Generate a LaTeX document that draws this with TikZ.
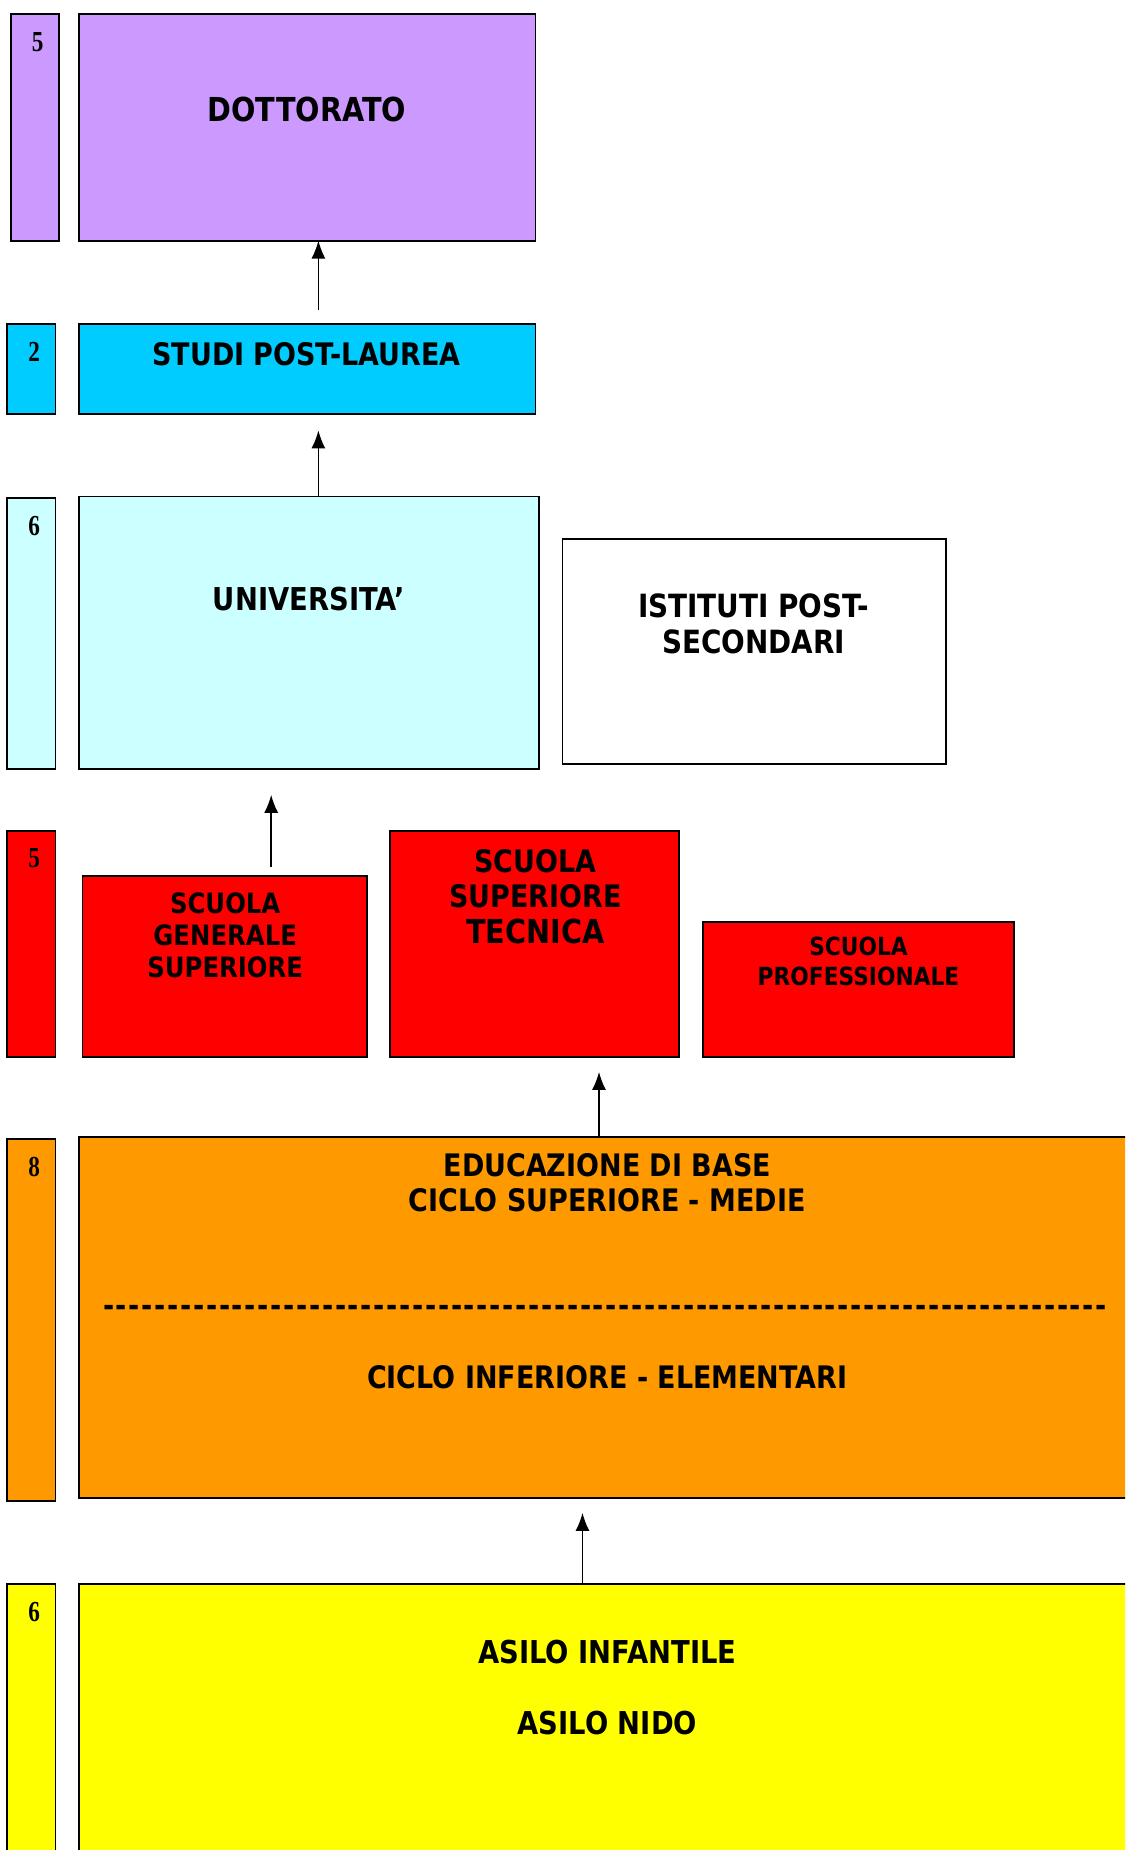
\documentclass[tikz,border=0pt]{standalone}
\usepackage{fontspec}
\usetikzlibrary{arrows.meta}
\newfontfamily\tfont[FakeStretch=0.87]{DejaVu Sans}
\newfontfamily\nfont[FakeStretch=0.8]{Liberation Serif}
\definecolor{cpurple}{HTML}{CC99FF}
\definecolor{ccyan}{HTML}{00CCFF}
\definecolor{clcyan}{HTML}{CCFFFF}
\definecolor{cred}{HTML}{FF0000}
\definecolor{corange}{HTML}{FF9900}
\definecolor{cyellow}{HTML}{FFFF00}
\newcount\hycnt
\newcommand\hyrow[1]{\hycnt=0 \loop\ifnum\hycnt<#1 -\kern1.7pt\advance\hycnt by 1 \repeat\unkern}
\tikzset{
  box/.style={draw=black, line width=1.8pt, inner sep=0pt, outer sep=0pt, anchor=north west},
  txt/.style={font=\tfont\bfseries, align=center, inner sep=0pt, text=black},
  num/.style={font=\nfont\bfseries\fontsize{29}{31}\selectfont, inner sep=0pt},
  arr/.style={line width=1.5pt, -{Latex[length=18pt,width=14pt]}},
}
\begin{document}
\begin{tikzpicture}[x=1pt,y=1pt]
\useasboundingbox (0,0) rectangle (1125,-1850);
\clip (0,0) rectangle (1125,-1850);
% row 1
\node[box, fill=cpurple, minimum width=48.4, minimum height=226.4] (s1) at (10.6,-14.2) {};
\node[box, fill=cpurple, minimum width=456.4, minimum height=226.4] (dott) at (79,-14.2) {};
\node[num] (n1) at (37.7,-42.5) {5};
\node[txt, font=\tfont\bfseries\fontsize{33}{38}\selectfont] (tdott) at (307,-109.7) {DOTTORATO};
% row 2
\node[box, fill=ccyan, minimum width=48.3, minimum height=89.6] (s2) at (7.1,-324.3) {};
\node[box, fill=ccyan, minimum width=456.4, minimum height=89.6] (studi) at (79,-324.3) {};
\node[num] (n2) at (34.2,-351.4) {2};
\node[txt, font=\tfont\bfseries\fontsize{31}{36}\selectfont] (tstudi) at (306.6,-353.8) {STUDI POST-LAUREA};
% row 3
\node[box, fill=clcyan, minimum width=48.3, minimum height=271.2] (s3) at (7.1,-497.6) {};
\node[box, fill=clcyan, minimum width=459.9, minimum height=272.4] (univ) at (79,-496.4) {};
\node[box, fill=white, minimum width=383.2, minimum height=225.2] (ist) at (562.5,-538.9) {};
\node[num] (n3) at (34.2,-525.9) {6};
\node[txt, font=\tfont\bfseries\fontsize{31.5}{36}\selectfont] (tuniv) at (309,-599) {UNIVERSITA’};
\node[txt, font=\tfont\bfseries\fontsize{32}{35.4}\selectfont] (tist) at (753.5,-623.8) {ISTITUTI POST-\\SECONDARI};
% row 4
\node[box, fill=cred, minimum width=48.3, minimum height=225.3] (s4) at (7.1,-831.3) {};
\node[box, fill=cred, minimum width=284.2, minimum height=180.5] (sgs) at (82.5,-876.1) {};
\node[box, fill=cred, minimum width=288.9, minimum height=225.3] (sst) at (390.3,-831.3) {};
\node[box, fill=cred, minimum width=311.3, minimum height=134.5] (sp) at (702.8,-922.1) {};
\node[num] (n4) at (34.2,-858.5) {5};
\node[txt, font=\tfont\bfseries\fontsize{28}{31.8}\selectfont] (tsgs) at (225.2,-935.1) {SCUOLA\\GENERALE\\SUPERIORE};
\node[txt, font=\tfont\bfseries\fontsize{31}{35.4}\selectfont] (tsst) at (535.4,-896.5) {SCUOLA\\SUPERIORE\\{\fontsize{33}{36}\selectfont TECNICA}};
\node[txt, font=\tfont\bfseries\fontsize{25}{29.5}\selectfont] (tsp) at (858.5,-961.6) {SCUOLA\\PROFESSIONALE};
% row 5
\node[box, fill=corange, minimum width=48.3, minimum height=362] (s5) at (7.1,-1139.1) {};
\node[box, fill=corange, minimum width=1051, minimum height=360.9] (base) at (79,-1136.7) {};
\node[num] (n5) at (34.2,-1167.4) {8};
\node[txt, font=\tfont\bfseries\fontsize{31}{35.4}\selectfont] (teduc) at (607.3,-1182.7) {EDUCAZIONE DI BASE\\CICLO SUPERIORE - MEDIE};
\node[txt, font=\tfont\bfseries\fontsize{31}{35.4}\selectfont] (tdash) at (605,-1311) {\hyrow{78}};
\node[txt, font=\tfont\bfseries\fontsize{31}{35.4}\selectfont] (tinf) at (607.3,-1377.3) {CICLO INFERIORE - ELEMENTARI};
% row 6
\node[box, fill=cyellow, minimum width=48.3, minimum height=300] (s6) at (7.1,-1583.7) {};
\node[box, fill=cyellow, minimum width=1051, minimum height=300] (asilo) at (79,-1583.7) {};
\node[num] (n6) at (34.2,-1612) {6};
\node[txt, font=\tfont\bfseries\fontsize{31.5}{36}\selectfont] (tasi) at (607.3,-1652) {ASILO INFANTILE};
\node[txt, font=\tfont\bfseries\fontsize{31.5}{36}\selectfont] (tnido) at (607.3,-1722.8) {ASILO NIDO};
% arrows
\coordinate (a1) at (318.4,-310);
\draw[arr] (a1) -- (dott.south -| a1);
\coordinate (a2) at (318.4,-430.4);
\draw[arr] (univ.north -| a2) -- (a2);
\coordinate (a3) at (271.2,-794.8);
\draw[arr] (sgs.north -| a3) ++(0,9) -- (a3);
\coordinate (a4) at (599,-1071.9);
\draw[arr] (base.north -| a4) -- (a4);
\coordinate (a5) at (582.5,-1512.9);
\draw[arr] (asilo.north -| a5) -- (a5);
\end{tikzpicture}
\end{document}
